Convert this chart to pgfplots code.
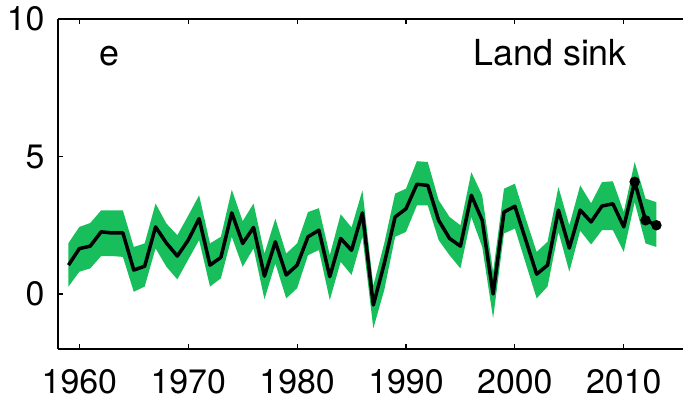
\documentclass[border=0pt]{standalone}
\usepackage{fontspec}
\setmainfont{TeX Gyre Heros}
\usepackage{pgfplots}
\pgfplotsset{compat=1.18}
\usepgfplotslibrary{fillbetween}
\usepackage{pgfplotstable}

\definecolor{bandgreen}{RGB}{24,190,92}

% year, central estimate, lower and upper bound
\pgfplotstableread{
year mid lo hi
1959 1.05 0.27 1.85
1960 1.65 0.81 2.44
1961 1.74 0.93 2.58
1962 2.26 1.38 3.04
1963 2.22 1.38 3.04
1964 2.22 1.35 3.04
1965 0.87 0.08 1.71
1966 1.01 0.27 1.84
1967 2.44 1.66 3.29
1968 1.85 0.99 2.56
1969 1.38 0.53 2.14
1970 1.96 1.25 2.85
1971 2.74 1.96 3.59
1972 1.05 0.27 1.84
1973 1.33 0.57 2.08
1974 2.95 2.08 3.79
1975 1.84 0.99 2.65
1976 2.42 1.66 3.29
1977 0.65 -0.19 1.47
1978 1.90 1.11 2.74
1979 0.69 -0.16 1.47
1980 1.05 0.21 1.84
1981 2.08 1.41 2.98
1982 2.32 1.60 3.12
1983 0.63 -0.22 1.41
1984 2.02 1.17 2.90
1985 1.59 0.69 2.42
1986 2.95 2.08 3.77
1987 -0.40 -1.25 0.30
1988 1.10 0.14 1.84
1989 2.80 2.08 3.65
1990 3.10 2.26 3.83
1991 3.99 3.22 4.83
1992 3.95 3.22 4.80
1993 2.68 1.96 3.41
1994 2.02 1.41 2.80
1995 1.74 0.93 2.50
1996 3.59 2.80 4.43
1997 2.68 1.71 3.59
1998 0.00 -0.88 0.80
1999 2.98 2.20 3.83
2000 3.19 2.38 4.01
2001 1.96 1.11 2.74
2002 0.72 -0.16 1.53
2003 1.05 0.27 1.90
2004 3.05 2.26 3.89
2005 1.67 0.81 2.50
2006 3.05 2.30 3.95
2007 2.62 1.80 3.30
2008 3.20 2.32 4.07
2009 3.28 2.32 4.10
2010 2.44 1.53 2.98
2011 4.08 3.34 4.80
2012 2.68 1.84 3.47
2013 2.50 1.71 3.34
}\landsink

\begin{document}
\begin{tikzpicture}
\begin{axis}[
    scale only axis,
    width=312.5bp, height=165bp,
    xmin=1958.04, xmax=2015.44,
    ymin=-2, ymax=10,
    axis y line*=left,
    axis line style={-, line width=0.65bp},
    xtick={1960,1970,...,2010},
    ytick={0,5,10},
    xtick pos=both,
    ytick pos=left,
    tick align=inside,
    major tick length=2.5bp,
    tick style={line width=0.6bp, black},
    ticklabel style={font=\fontsize{17}{17}\selectfont},
    /pgf/number format/assume math mode=true,
    xticklabel style={/pgf/number format/1000 sep={}, yshift=-6.5bp},
    yticklabel style={xshift=-3.2bp},
]
\addplot[draw=none, name path=upper] table[x=year, y=hi] {\landsink};
\addplot[draw=none, name path=lower] table[x=year, y=lo] {\landsink};
\addplot[fill=bandgreen, draw=none] fill between[of=upper and lower];
\addplot[black, line width=1.75bp, line join=round] table[x=year, y=mid] {\landsink};
\addplot[only marks, mark=*, mark size=2.4bp, black] coordinates {(2011,4.08) (2012,2.68) (2013,2.50)};
\node[anchor=base, font=\fontsize{18}{18}\selectfont] at (axis cs:1962.8,8.3) {e};
\node[anchor=base west, inner sep=0pt, font=\fontsize{18}{18}\selectfont] at (axis cs:1996.15,8.3) {Land sink};
\end{axis}
\pgfresetboundingbox
\useasboundingbox (-29bp,-25.5bp) rectangle (312.5bp,174.5bp);
\end{tikzpicture}
\end{document}
